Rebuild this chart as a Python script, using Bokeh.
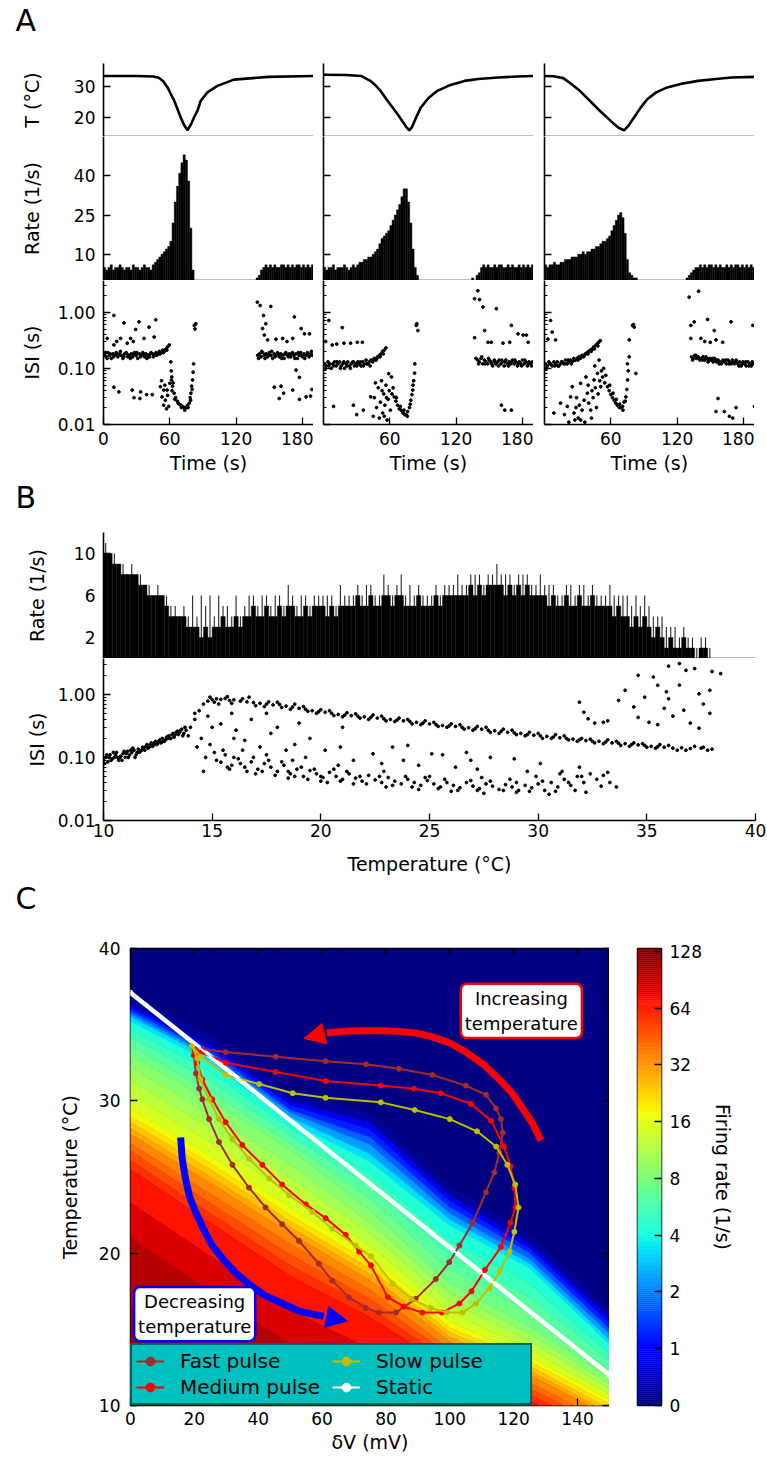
import numpy as np
from bokeh.plotting import figure
from bokeh.layouts import column, row
from bokeh.models import (Range1d, FixedTicker, PrintfTickFormatter, LinearAxis,
                          Label, Arrow, NormalHead, Legend, LegendItem)
from bokeh.embed import file_html
from bokeh.resources import INLINE

FONT = "DejaVu Sans"

# ======================= DATA =======================
# ---- Panel A: temperature traces (time s, T degC) ----
T1_t = [0, 30, 45, 50, 54, 58, 61, 64, 67, 70, 73, 76, 79, 82, 85, 88, 94, 103, 118, 149, 190]
T1_v = [33.5, 33.5, 33.3, 32.9, 31.8, 29.8, 27.6, 25.5, 22.8, 20.0, 17.6, 16.0, 17.8, 20.2, 22.3, 25.5, 28.2, 30.3, 32.3, 33.2, 33.5]
T2_t = [0, 20, 34, 42, 47, 52, 57, 62, 67, 72, 75, 77.6, 80, 83, 88, 95, 103, 115, 127.5, 140, 158, 175, 190]
T2_v = [33.9, 33.8, 33.5, 32.0, 30.5, 28.5, 26.0, 23.6, 21.2, 18.6, 17.0, 16.0, 17.0, 19.5, 23.3, 26.4, 28.7, 30.6, 31.9, 32.5, 33.0, 33.3, 33.5]
T3_t = [0, 8, 17, 24, 32, 41, 50, 57, 63, 67, 72, 76, 81, 87, 93, 101, 111, 124, 139, 155, 169, 190]
T3_v = [33.5, 33.4, 32.8, 31.0, 28.7, 25.5, 22.3, 20.0, 18.0, 16.8, 16.0, 17.5, 20.1, 23.3, 26.0, 28.2, 29.8, 31.0, 31.9, 32.5, 33.0, 33.2]

# ---- Panel A: firing rate, 2-s bins from 0 to 190 s ----
RATE_A1 = [5, 4, 5, 6, 4, 5, 5, 6, 5, 4, 5, 5, 4, 6, 5, 5, 4, 5, 6, 5, 5, 4,
           6, 7, 8, 9, 10, 11,
           12, 13, 15, 22, 30, 36, 41, 45, 48, 46, 38, 20, 4,
           0, 0, 0, 0, 0, 0, 0, 0, 0, 0, 0, 0, 0, 0, 0, 0, 0, 0, 0, 0, 0, 0, 0, 0, 0, 0, 0, 0,
           1, 2, 4, 5,
           6, 5, 6, 5, 6, 5, 5, 6, 6, 5, 6, 5, 6, 5, 6, 6, 5, 6, 5, 6, 5, 6]
RATE_A2 = [5, 4, 5, 5, 6, 4, 5, 5, 5, 6, 5, 4, 5, 6, 5,
           6, 7, 7, 8, 8, 9, 9, 10, 11, 12, 14,
           16, 17, 18, 19, 21, 23, 25, 27, 29, 32, 35, 35, 30, 22, 12, 5, 2,
           0, 0, 0, 0, 0, 0, 0, 0, 0, 0, 0, 0, 0, 0, 0, 0, 0, 0, 0, 0, 0, 0, 0, 0,
           1, 0, 2, 3,
           5, 6, 5, 6, 5, 5, 6, 5, 6, 6, 5, 5, 6, 5, 6, 5, 5, 6, 5, 6, 5, 6, 5, 6]
RATE_A3 = [6, 5, 6, 6, 7, 6, 6, 7, 7, 8,
           8, 8, 9, 9, 9, 10, 10, 11, 10, 11,
           11, 12, 12, 13, 13, 14, 15, 15,
           16, 17, 19, 21, 23, 25, 26, 24, 18, 8,
           3, 2, 1, 1,
           0, 0, 0, 0, 0, 0, 0, 0, 0, 0, 0, 0, 0, 0, 0, 0, 0, 0, 0, 0, 0, 0,
           1, 2, 3, 4,
           5, 5, 6, 5, 6, 5, 6, 6, 5, 6, 5, 6, 5, 5, 6, 5, 6, 5, 6, 6, 5, 6, 5, 6, 5, 6, 5]

# ---- Panel A: interspike intervals (time s, ISI s) ----
ISI_A1 = [
    (1, 0.17), (2.5, 0.16), (4, 0.19), (5.5, 0.17), (7, 0.15), (8.5, 0.18), (10, 0.17), (11.5, 0.19), (13, 0.16), (14.5, 0.18),
    (16, 0.17), (17.5, 0.15), (19, 0.18), (20.5, 0.19), (22, 0.16), (23.5, 0.17), (25, 0.18), (26.5, 0.16), (28, 0.19), (29.5, 0.17),
    (31, 0.15), (32.5, 0.18), (34, 0.17), (35.5, 0.19), (37, 0.16), (38.5, 0.18), (40, 0.17), (41.5, 0.16), (43, 0.19), (44.5, 0.18),
    (46, 0.17), (47.5, 0.19), (49, 0.18), (50.5, 0.2), (52, 0.19), (53.5, 0.21), (55, 0.2), (56.5, 0.22), (58, 0.24), (59.5, 0.26),
    (1.8, 0.19), (3.3, 0.15), (6.2, 0.18), (9.1, 0.16), (12.2, 0.18), (15.3, 0.2), (18.4, 0.16), (21.2, 0.18), (24.3, 0.15), (27.1, 0.18),
    (30.2, 0.19), (33.4, 0.16), (36.1, 0.18), (39.3, 0.15), (42.2, 0.18), (45.1, 0.16), (48.3, 0.17), (51.2, 0.18), (54.1, 0.19), (57.3, 0.21),
    (3.3, 0.34), (9.4, 0.87), (9.4, 0.26), (15.5, 0.34), (18.5, 0.64), (21.5, 0.28), (24.5, 0.34), (29.1, 0.49), (32.1, 0.67), (36.7, 0.34),
    (41.2, 0.54), (45.8, 0.36), (47.3, 0.73), (12, 0.3), (27, 0.3),
    (9.4, 0.046), (13.9, 0.038), (26, 0.041), (27.6, 0.030), (33, 0.029), (33.6, 0.038), (39, 0.034), (44.2, 0.034),
    (51.5, 0.047), (53, 0.031), (54.5, 0.022), (56, 0.027), (57.6, 0.041), (59, 0.021), (60, 0.054), (54.5, 0.041), (52.5, 0.06),
    (58, 0.033), (55.5, 0.05), (57, 0.019),
    (60.9, 0.13), (61.3, 0.09), (61.5, 0.062), (62.5, 0.048), (63.9, 0.036), (65.2, 0.03), (66.9, 0.026), (68.5, 0.023), (70, 0.022),
    (71.5, 0.021), (73, 0.02), (74.5, 0.020), (76, 0.022), (77.6, 0.024), (78.4, 0.03), (79.1, 0.036), (79.8, 0.048), (80.6, 0.062),
    (81.1, 0.085), (81.5, 0.12), (82.1, 0.58), (83.6, 0.62), (82.8, 0.5), (62, 0.04), (64.5, 0.028), (67.5, 0.024), (70.5, 0.02),
    (73.5, 0.018), (76.5, 0.02), (78.8, 0.027), (80.2, 0.042), (63, 0.055), (61.8, 0.07),
    (139.2, 1.5), (141.7, 1.31), (151.4, 1.26), (144.8, 0.87), (146.8, 0.62), (143.9, 0.51), (145.5, 0.39), (148.5, 0.32),
    (162.1, 0.34), (172.7, 0.82), (178.8, 0.51), (181.8, 0.41), (186.4, 0.41), (171.2, 0.34), (156, 0.33), (166, 0.3),
    (154.5, 0.046), (160.6, 0.048), (163, 0.036), (159, 0.029), (174.2, 0.093), (177.3, 0.069), (171.2, 0.041), (177.3, 0.028),
    (183.3, 0.031), (188.5, 0.042), (187.3, 0.032),
    (139.5, 0.17), (141, 0.18), (142.5, 0.16), (144, 0.19), (145.5, 0.17), (147, 0.18), (148.5, 0.16), (150, 0.19), (151.5, 0.17),
    (153, 0.15), (154.5, 0.18), (156, 0.17), (157.5, 0.19), (159, 0.16), (160.5, 0.18), (162, 0.17), (163.5, 0.15), (165, 0.19),
    (166.5, 0.17), (168, 0.18), (169.5, 0.16), (171, 0.19), (172.5, 0.17), (174, 0.18), (175.5, 0.15), (177, 0.17), (178.5, 0.19),
    (180, 0.16), (181.5, 0.18), (183, 0.17), (184.5, 0.19), (186, 0.16), (187.5, 0.18), (189, 0.17),
    (140.3, 0.15), (143.2, 0.2), (146.1, 0.15), (149.3, 0.17), (152.2, 0.2), (155.1, 0.16), (158.3, 0.18), (161.2, 0.15),
    (164.1, 0.18), (167.3, 0.16), (170.2, 0.18), (173.1, 0.15), (176.3, 0.19), (179.2, 0.17), (182.1, 0.15), (185.3, 0.18), (188.2, 0.2),
]
ISI_A2 = [
    (1, 0.12), (2.5, 0.11), (4, 0.13), (5.5, 0.12), (7, 0.1), (8.5, 0.12), (10, 0.13), (11.5, 0.11), (13, 0.12), (14.5, 0.13),
    (16, 0.11), (17.5, 0.12), (19, 0.1), (20.5, 0.12), (22, 0.13), (23.5, 0.11), (25, 0.12), (26.5, 0.13), (28, 0.11), (29.5, 0.12),
    (31, 0.13), (32.5, 0.12), (34, 0.11), (35.5, 0.13), (37, 0.12), (38.5, 0.14), (40, 0.12), (41.5, 0.13), (43, 0.14), (44.5, 0.13),
    (46, 0.15), (47.5, 0.14), (49, 0.16), (50.5, 0.17), (52, 0.18), (53.5, 0.2), (55, 0.21), (56.5, 0.23),
    (1.8, 0.1), (4.8, 0.11), (9.1, 0.11), (12.2, 0.13), (15.3, 0.1), (18.4, 0.13), (21.2, 0.11), (24.3, 0.1), (27.1, 0.13),
    (30.2, 0.11), (33.4, 0.13), (36.1, 0.11), (39.3, 0.12), (42.2, 0.11), (45.1, 0.14), (48.3, 0.15), (51.2, 0.16), (54.1, 0.18),
    (4.8, 0.71), (17, 0.53), (7.9, 0.26), (18.5, 0.28), (24.5, 0.28), (30.6, 0.29), (35.2, 0.29), (2, 0.3), (12, 0.27),
    (9.1, 0.021), (27, 0.022), (36, 0.018), (45, 0.014), (42.7, 0.031), (30, 0.015),
    (46, 0.03), (48, 0.02), (49.5, 0.045), (50.5, 0.013), (51.5, 0.025), (52.5, 0.06), (53.5, 0.016), (54.5, 0.035), (55.5, 0.022),
    (56.5, 0.05), (57.5, 0.012), (58.5, 0.028), (59.5, 0.04), (60.5, 0.018), (61.5, 0.07), (47, 0.055), (53, 0.04), (57, 0.03),
    (55, 0.014), (59, 0.08), (62, 0.035), (63, 0.045),
    (64, 0.031), (65.5, 0.026), (67, 0.022), (68.6, 0.019), (70.2, 0.018), (72, 0.016), (73.5, 0.015), (74.8, 0.015), (76.2, 0.017),
    (77.8, 0.02), (79, 0.027), (80, 0.034), (80.8, 0.041), (81.6, 0.06), (82.4, 0.082), (82.6, 0.12), (83.9, 0.58), (85.4, 0.47),
    (84.5, 0.62), (66, 0.03), (69.5, 0.021), (72.8, 0.018), (75.8, 0.014), (78.5, 0.023), (81, 0.05),
    (139.7, 2.4), (136.7, 1.73), (141.2, 1.67), (144.3, 1.23), (156.4, 1.15), (145.8, 0.47), (136.7, 0.35), (148.8, 0.29),
    (151.8, 0.29), (162.4, 0.28), (168.5, 0.29), (170, 0.58), (176, 0.41), (180.6, 0.39), (183.6, 0.39), (185.2, 0.29),
    (161, 0.022), (164, 0.018), (170, 0.018),
    (138, 0.15), (139.5, 0.14), (141, 0.13), (142.5, 0.15), (144, 0.12), (145.5, 0.14), (147, 0.13), (148.5, 0.12), (150, 0.14),
    (151.5, 0.13), (153, 0.11), (154.5, 0.14), (156, 0.12), (157.5, 0.13), (159, 0.14), (160.5, 0.12), (162, 0.13), (163.5, 0.11),
    (165, 0.14), (166.5, 0.12), (168, 0.13), (169.5, 0.12), (171, 0.14), (172.5, 0.12), (174, 0.13), (175.5, 0.11), (177, 0.13),
    (178.5, 0.12), (180, 0.14), (181.5, 0.12), (183, 0.13), (184.5, 0.11), (186, 0.13), (187.5, 0.12), (189, 0.13),
    (140.3, 0.12), (143.2, 0.16), (146.1, 0.12), (149.3, 0.15), (152.2, 0.12), (155.1, 0.13), (158.3, 0.11), (161.2, 0.14),
    (164.1, 0.13), (167.3, 0.11), (170.2, 0.13), (173.1, 0.14), (176.3, 0.12), (179.2, 0.11), (182.1, 0.14), (185.3, 0.12), (188.2, 0.11),
]
ISI_A3 = [
    (1, 0.12), (2.5, 0.11), (4, 0.13), (5.5, 0.12), (7, 0.11), (8.5, 0.13), (10, 0.12), (11.5, 0.13), (13, 0.11), (14.5, 0.12),
    (16, 0.13), (17.5, 0.12), (19, 0.14), (20.5, 0.12), (22, 0.13), (23.5, 0.14), (25, 0.13), (26.5, 0.15), (28, 0.14), (29.5, 0.15),
    (31, 0.16), (32.5, 0.15), (34, 0.17), (35.5, 0.16), (37, 0.18), (38.5, 0.19), (40, 0.2), (41.5, 0.21), (43, 0.22), (44.5, 0.24),
    (46, 0.25), (47.5, 0.27), (49, 0.29), (50.5, 0.31),
    (1.8, 0.1), (4.8, 0.12), (9.1, 0.11), (12.2, 0.11), (15.3, 0.13), (18.4, 0.12), (21.2, 0.14), (24.3, 0.12), (27.1, 0.14),
    (30.2, 0.14), (33.4, 0.16), (36.1, 0.17), (39.3, 0.18), (42.2, 0.2), (45.1, 0.22), (48.3, 0.25),
    (7, 0.44), (10, 0.32), (5.5, 0.71), (3, 0.33),
    (8.5, 0.016), (14.5, 0.024), (20.6, 0.021), (23.6, 0.031), (26.7, 0.016), (32.7, 0.012), (35.8, 0.027), (38.8, 0.036),
    (41.8, 0.018), (44.8, 0.062), (47.9, 0.081), (50.9, 0.047), (49.4, 0.14), (32.7, 0.054), (25.1, 0.047), (18, 0.015),
    (22, 0.011), (28.5, 0.02), (30.5, 0.013), (34, 0.018), (36.5, 0.011), (40, 0.024), (42.5, 0.013), (44, 0.03), (46, 0.045),
    (47, 0.02), (48.5, 0.035), (50, 0.06), (51.5, 0.09), (39.5, 0.05), (37.5, 0.07), (43, 0.04), (29, 0.03), (31.5, 0.022),
    (27.5, 0.012), (45.5, 0.11), (52.5, 0.07), (53.5, 0.1), (54.5, 0.055), (55.5, 0.075),
    (57, 0.047), (58.5, 0.04), (60, 0.034), (61.5, 0.03), (63, 0.027), (64.5, 0.024), (66, 0.022), (67.6, 0.02), (69, 0.02),
    (70.6, 0.021), (72, 0.025), (73.6, 0.031), (74.5, 0.042), (75.2, 0.062), (75.8, 0.09), (76.7, 0.16), (76.7, 0.32),
    (79.7, 0.58), (81.2, 0.54), (82.7, 0.081), (80.5, 0.6), (59, 0.05), (62, 0.036), (65, 0.028), (68, 0.023), (71, 0.018),
    (73, 0.026), (75, 0.12),
    (130.9, 1.84), (139.4, 2.35), (132.4, 0.58), (135.5, 0.67), (147.6, 0.74), (132.4, 0.34), (141.5, 0.34), (153.6, 0.47),
    (155.2, 0.32), (161.2, 0.29), (168.8, 0.67), (188.5, 0.58), (157, 0.029), (155.2, 0.017), (162.7, 0.017), (167.3, 0.014),
    (173.3, 0.02), (170.3, 0.013), (190, 0.021), (145, 0.3), (150, 0.29),
    (133, 0.16), (134.5, 0.15), (136, 0.17), (137.5, 0.15), (139, 0.16), (140.5, 0.14), (142, 0.15), (143.5, 0.16), (145, 0.14),
    (146.5, 0.15), (148, 0.13), (149.5, 0.15), (151, 0.14), (152.5, 0.13), (154, 0.15), (155.5, 0.13), (157, 0.14), (158.5, 0.13),
    (160, 0.12), (161.5, 0.14), (163, 0.13), (164.5, 0.12), (166, 0.14), (167.5, 0.13), (169, 0.12), (170.5, 0.13), (172, 0.12),
    (173.5, 0.14), (175, 0.12), (176.5, 0.13), (178, 0.11), (179.5, 0.13), (181, 0.12), (182.5, 0.11), (184, 0.13), (185.5, 0.12),
    (187, 0.11), (188.5, 0.12), (134, 0.14), (137, 0.17), (140, 0.15), (143, 0.14), (146, 0.16), (149, 0.14), (152, 0.15),
    (155, 0.14), (158, 0.12), (161, 0.13), (164, 0.14), (167, 0.12), (170, 0.14), (173, 0.13), (176, 0.11), (179, 0.12),
    (182, 0.13), (185, 0.11), (188, 0.13),
]

# ---- Panel B: firing rate vs temperature, 0.2 degC bins from 10 to 38 (body and spike tops) ----
RATE_B = [10, 10, 9, 9, 8, 8, 8, 8, 7, 7, 6, 6, 6, 6, 5, 4, 4, 4, 4, 3, 3, 3, 2, 3, 2,
          3, 3, 4, 3, 3, 4, 3, 4, 4, 5, 4, 4, 5, 4, 4, 5, 4, 5, 5, 4, 4, 5, 4, 5, 5,
          5, 4, 5, 4, 5, 5, 5, 5, 6, 5, 5, 6, 5, 5, 6, 6, 5, 6, 6, 5, 5, 5, 6, 5, 5,
          5, 6, 5, 6, 6, 6, 6, 6, 6, 7, 6, 7, 6, 7, 7, 7, 7, 6, 7, 6, 7, 6, 7, 6, 6,
          6, 6, 5, 6, 5, 5, 6, 5, 5, 6, 5, 5, 6, 5, 5, 5, 5, 4, 5, 4, 4, 3, 4, 3, 4,
          3, 2, 3, 2, 1, 2, 1, 1, 2, 1, 1, 0, 1, 1, 0]
RATE_B_PEAK = [11, 10, 10, 9, 9, 8, 9, 8, 8, 7, 7, 6, 7, 6, 6, 5, 5, 4, 5, 4, 6, 4, 6, 5, 6,
               4, 6, 5, 5, 4, 6, 4, 5, 6, 6, 5, 6, 6, 5, 6, 6, 5, 7, 6, 5, 6, 6, 5, 6, 6,
               6, 6, 6, 5, 7, 6, 6, 6, 7, 6, 7, 7, 6, 6, 8, 7, 6, 7, 8, 6, 7, 6, 7, 6, 6,
               6, 7, 6, 7, 7, 7, 8, 7, 7, 8, 8, 8, 7, 8, 8, 9, 8, 8, 8, 7, 8, 8, 8, 7, 7,
               8, 7, 7, 7, 6, 6, 7, 7, 6, 7, 7, 6, 7, 6, 6, 6, 7, 6, 6, 6, 6, 5, 6, 5, 6,
               5, 4, 4, 4, 3, 3, 3, 2, 3, 2, 2, 1, 2, 2, 1]

# ---- Panel B: ISI vs temperature (degC, s) ----
ISI_B = [
    (10.0, 0.09), (10.1, 0.1), (10.2, 0.085), (10.3, 0.11), (10.4, 0.095), (10.5, 0.1), (10.6, 0.12), (10.7, 0.09), (10.8, 0.105),
    (10.9, 0.115), (11.0, 0.1), (11.1, 0.125), (11.2, 0.11), (11.3, 0.12), (11.4, 0.13), (11.5, 0.11), (11.6, 0.135), (11.7, 0.125),
    (11.8, 0.145), (11.9, 0.13), (12.0, 0.16), (12.1, 0.145), (12.2, 0.17), (12.3, 0.155), (12.4, 0.18), (12.5, 0.165), (12.6, 0.19),
    (12.7, 0.2), (12.8, 0.18), (12.9, 0.21), (13.0, 0.22), (13.1, 0.2), (13.2, 0.24), (13.3, 0.23), (13.4, 0.26), (13.5, 0.25),
    (13.6, 0.28), (13.7, 0.24), (13.8, 0.27), (10.05, 0.08), (10.25, 0.1), (10.45, 0.12), (10.65, 0.1), (10.85, 0.09), (11.05, 0.115),
    (11.25, 0.13), (11.45, 0.1), (11.65, 0.12), (11.85, 0.14), (12.05, 0.14), (12.25, 0.15), (12.45, 0.16), (12.65, 0.17), (12.85, 0.19),
    (13.05, 0.2), (13.25, 0.21), (13.45, 0.23), (13.65, 0.22), (13.9, 0.22),
    (10.15, 0.11), (10.35, 0.09), (10.55, 0.11), (10.75, 0.1), (10.95, 0.125), (11.15, 0.1), (11.35, 0.14), (11.55, 0.12),
    (11.75, 0.13), (11.95, 0.15), (12.15, 0.16), (12.35, 0.17), (12.55, 0.18), (12.75, 0.18), (12.95, 0.2), (13.15, 0.23),
    (13.35, 0.25), (13.55, 0.27), (13.75, 0.3),
    (14.0, 0.3), (14.2, 0.4), (14.4, 0.55), (14.6, 0.7), (14.8, 0.78), (15.0, 0.82), (15.2, 0.85), (15.4, 0.83), (15.6, 0.86),
    (15.8, 0.8), (16.0, 0.82), (16.3, 0.78), (16.6, 0.76), (16.9, 0.74), (17.2, 0.72), (17.5, 0.7), (17.8, 0.68), (18.1, 0.69),
    (18.4, 0.65), (18.7, 0.63), (19.0, 0.6), (19.3, 0.58), (19.6, 0.55), (19.9, 0.53), (20.2, 0.52), (20.5, 0.5), (20.8, 0.48),
    (21.1, 0.47), (21.4, 0.46), (21.7, 0.45), (22.0, 0.44), (22.3, 0.43), (22.6, 0.42), (22.9, 0.41), (23.2, 0.4), (23.5, 0.39),
    (23.8, 0.38), (24.1, 0.37), (24.4, 0.36), (24.7, 0.35), (25.0, 0.34), (25.3, 0.33), (25.6, 0.32), (25.9, 0.315), (26.2, 0.31),
    (26.5, 0.3), (26.8, 0.295), (27.1, 0.285), (27.4, 0.28), (27.7, 0.27), (28.0, 0.265), (28.3, 0.26), (28.6, 0.25), (28.9, 0.245),
    (29.2, 0.24), (29.5, 0.23), (29.8, 0.225), (30.1, 0.22), (30.4, 0.215), (30.7, 0.21), (31.0, 0.205), (31.3, 0.2), (31.6, 0.195),
    (31.9, 0.19), (32.2, 0.185), (32.5, 0.18), (32.8, 0.18), (33.1, 0.175), (33.4, 0.17), (33.7, 0.168), (34.0, 0.165), (34.3, 0.16),
    (34.6, 0.158), (34.9, 0.155), (35.2, 0.15), (35.5, 0.148), (35.8, 0.145), (36.2, 0.14), (36.6, 0.142), (37.0, 0.138),
    (37.5, 0.14), (38.0, 0.135),
    (15.1, 0.75), (15.7, 0.92), (16.4, 0.85), (17.0, 0.66), (17.6, 0.76), (18.2, 0.62), (18.8, 0.7), (19.4, 0.54), (20.0, 0.57),
    (20.6, 0.46), (21.2, 0.51), (21.8, 0.42), (22.4, 0.47), (23.0, 0.38), (23.6, 0.42), (24.2, 0.34), (24.8, 0.38), (25.4, 0.31),
    (26.0, 0.34), (26.6, 0.28), (27.2, 0.31), (27.8, 0.25), (28.4, 0.28), (29.0, 0.23), (29.6, 0.25), (30.2, 0.2), (30.8, 0.23),
    (31.4, 0.19), (32.0, 0.2), (32.6, 0.17), (33.2, 0.19), (33.8, 0.155), (34.4, 0.17), (35.0, 0.145), (35.6, 0.16), (36.4, 0.13),
    (37.2, 0.15), (37.8, 0.13),
    (14.9, 0.9), (15.3, 0.7), (15.9, 0.72), (16.7, 0.9), (17.4, 0.64), (18.0, 0.75), (18.6, 0.58), (19.2, 0.64), (19.8, 0.5),
    (20.4, 0.55), (21.0, 0.44), (21.6, 0.49), (22.2, 0.4), (22.8, 0.45), (23.4, 0.37), (24.0, 0.4), (24.6, 0.33), (25.2, 0.36),
    (25.8, 0.3), (26.4, 0.33), (27.0, 0.27), (27.6, 0.3), (28.2, 0.24), (28.8, 0.27), (29.4, 0.22), (30.0, 0.24), (30.6, 0.2),
    (31.2, 0.22), (31.8, 0.18), (32.4, 0.195), (33.0, 0.165), (33.6, 0.18), (34.2, 0.15), (34.8, 0.165), (35.4, 0.14),
    (36.0, 0.155), (36.8, 0.13), (37.6, 0.145),
    (14.3, 0.146), (14.5, 0.2), (14.7, 0.1), (14.9, 0.16), (15.1, 0.12), (15.4, 0.084), (15.6, 0.11), (15.9, 0.075), (16.2, 0.095),
    (16.5, 0.07), (16.8, 0.085), (17.1, 0.065), (17.4, 0.08), (17.7, 0.07), (18.0, 0.06), (18.3, 0.075), (18.6, 0.055), (18.9, 0.065),
    (19.2, 0.05), (19.5, 0.062), (19.8, 0.055), (20.1, 0.048), (20.4, 0.058), (20.7, 0.05), (21.0, 0.045), (21.3, 0.055),
    (21.6, 0.047), (21.9, 0.042), (22.2, 0.052), (22.5, 0.044), (22.8, 0.04), (23.1, 0.048), (23.4, 0.042), (23.7, 0.038),
    (24.0, 0.045), (24.3, 0.04), (24.6, 0.036), (24.9, 0.043), (25.2, 0.038), (25.5, 0.034), (25.8, 0.04), (26.1, 0.036),
    (26.4, 0.033), (26.7, 0.04), (27.0, 0.035), (27.3, 0.032), (27.6, 0.038), (27.9, 0.035), (28.2, 0.031), (28.5, 0.037),
    (28.8, 0.034), (29.1, 0.03), (29.4, 0.036), (29.7, 0.033), (30.0, 0.038), (30.3, 0.03), (30.6, 0.04), (30.9, 0.034),
    (31.2, 0.045), (31.5, 0.036), (31.8, 0.05), (32.1, 0.04), (32.4, 0.055), (32.7, 0.045), (33.0, 0.052), (33.3, 0.04),
    (33.6, 0.034), (32.2, 0.028), (30.5, 0.026), (29.0, 0.028), (27.5, 0.027), (26.0, 0.029), (24.5, 0.031), (23.0, 0.034),
    (21.5, 0.038), (20.0, 0.042), (18.5, 0.047), (17.0, 0.055), (15.8, 0.065), (14.6, 0.06),
    (15.2, 0.09), (15.5, 0.13), (15.7, 0.07), (16.0, 0.1), (16.3, 0.08), (16.6, 0.06), (16.9, 0.1), (17.3, 0.06), (17.6, 0.09),
    (17.9, 0.052), (18.2, 0.085), (18.5, 0.06), (18.8, 0.05), (19.1, 0.07), (19.4, 0.045), (19.7, 0.065), (20.0, 0.05),
    (20.3, 0.04), (20.6, 0.065), (20.9, 0.042), (21.2, 0.06), (21.8, 0.05), (22.1, 0.038), (22.7, 0.05), (23.3, 0.036),
    (23.9, 0.05), (24.2, 0.034), (24.8, 0.048), (25.4, 0.032), (25.7, 0.045), (26.3, 0.03), (26.9, 0.043), (27.2, 0.03),
    (27.8, 0.042), (28.4, 0.03), (29.0, 0.04), (29.6, 0.029), (30.2, 0.042), (30.8, 0.029), (31.4, 0.04), (31.7, 0.03),
    (32.0, 0.05), (32.9, 0.035), (33.2, 0.058), (31.1, 0.06), (29.9, 0.05), (28.7, 0.045), (27.4, 0.048), (25.0, 0.05),
    (22.9, 0.06), (20.8, 0.075), (18.7, 0.09), (17.5, 0.11), (16.4, 0.13),
    (15.4, 0.34), (16.1, 0.27), (16.5, 0.186), (17.2, 0.146), (17.7, 0.24), (18.4, 0.13), (19.3, 0.1), (20.2, 0.13), (20.9, 0.146),
    (22.4, 0.114), (23.3, 0.146), (24.0, 0.155), (25.1, 0.114), (25.6, 0.11), (26.7, 0.12), (27.8, 0.1), (28.9, 0.095), (30.1, 0.08),
    (31.9, 0.07), (14.8, 0.45), (15.0, 0.3), (15.9, 0.5), (16.8, 0.4), (17.5, 0.5), (18.0, 0.3), (19.0, 0.35), (19.5, 0.2),
    (21.5, 0.09), (22.8, 0.08), (24.5, 0.075), (26.2, 0.07), (27.2, 0.065), (29.5, 0.06), (31.0, 0.055), (14.2, 0.5), (16.0, 0.2),
    (18.8, 0.16), (21.0, 0.3), (23.8, 0.09), (26.9, 0.09),
    (31.9, 0.75), (32.1, 0.52), (32.3, 0.41), (33.2, 0.38), (33.7, 0.8), (34.0, 1.16), (34.6, 2.0), (35.3, 1.88), (35.5, 1.39),
    (36.0, 0.85), (36.5, 1.4), (36.7, 0.56), (36.8, 2.4), (37.2, 2.56), (37.4, 1.02), (37.9, 1.16), (38.0, 2.3), (38.4, 2.13),
    (36.5, 3.07), (36.0, 2.8), (34.6, 0.43), (35.1, 0.36), (35.5, 0.33), (37.4, 0.29), (37.0, 0.35), (37.9, 0.5), (34.4, 0.63),
    (33.0, 0.36), (32.6, 0.35), (35.8, 0.6), (36.2, 0.45), (37.6, 0.7), (34.9, 0.9), (35.9, 1.1),
]

# ---- Panel C: firing-rate map as iso-lines: T (degC) at each dV column, per colour level ----
HEAT_DV = [0, 25, 50, 75, 100, 125, 150]
HEAT_LEVEL = [0.5, 1.0, 1.5, 2.0, 2.5, 3.0, 3.25, 3.5, 3.75, 4.0, 4.25, 4.5, 4.75, 5.0, 5.25, 5.5, 5.75,
              6.0, 6.25, 6.5, 6.75, 7.0, 7.25, 7.5, 7.75, 8.0]
HEAT_T = [
    [36.3, 33.6, 30.0, 28.6, 23.8, 20.6, 15.8],
    [36.1, 33.4, 29.7, 28.1, 23.4, 20.3, 15.4],
    [35.9, 33.2, 29.4, 27.6, 23.0, 20.0, 15.0],
    [35.7, 33.0, 29.2, 27.1, 22.6, 19.6, 14.7],
    [35.5, 32.8, 28.9, 26.5, 22.2, 19.3, 14.3],
    [35.2, 32.5, 28.6, 26.0, 21.8, 19.0, 14.0],
    [34.7, 31.9, 28.2, 25.2, 20.8, 18.0, 13.4],
    [34.2, 31.3, 27.7, 24.4, 19.9, 17.1, 12.9],
    [33.6, 30.6, 27.2, 23.6, 18.9, 16.1, 12.3],
    [33.0, 30.0, 26.8, 22.8, 18.0, 15.2, 11.8],
    [32.2, 29.1, 25.8, 22.0, 17.4, 14.7, 11.4],
    [31.3, 28.2, 24.9, 21.3, 16.8, 14.2, 11.1],
    [30.4, 27.3, 23.9, 20.5, 16.1, 13.7, 10.7],
    [29.5, 26.4, 23.0, 19.8, 15.5, 13.2, 10.4],
    [29.0, 25.9, 22.5, 19.4, 15.1, 12.9, 10.1],
    [28.6, 25.5, 22.1, 19.0, 14.8, 12.6, 9.8],
    [28.2, 25.0, 21.7, 18.6, 14.5, 12.3, 9.5],
    [27.8, 24.6, 21.3, 18.2, 14.2, 12.0, 9.3],
    [27.2, 23.9, 20.6, 17.6, 13.7, 11.5, 8.9],
    [26.7, 23.3, 19.9, 17.0, 13.3, 11.1, 8.6],
    [26.1, 22.6, 19.2, 16.4, 12.9, 10.7, 8.3],
    [25.5, 22.0, 18.5, 15.8, 12.5, 10.3, 8.0],
    [23.3, 19.8, 16.3, 13.7, 10.5, 8.2, 5.5],
    [21.0, 17.5, 14.0, 11.5, 8.5, 6.0, 3.0],
    [16.5, 12.8, 9.0, 5.8, 2.8, 0.0, -3.0],
    [12.0, 8.0, 4.0, 0.0, -3.0, -6.0, -9.0],
]
CBAR_TICKS = [0, 1, 2, 3, 4, 5, 6, 7, 8]
CBAR_LABELS = ["0", "1", "2", "4", "8", "16", "32", "64", "128"]

STATIC_DV = [0, 150]
STATIC_T = [37.1, 12.0]
FAST_DV = [19.3, 19.8, 20.5, 21.5, 22.5, 24.6, 27.7, 31.9, 37.1, 42.3, 47.5, 52.8, 59.0, 63.2, 68.4, 73.7, 77.8, 83.1, 89.3, 95.6,
           99.8, 103.0, 107.2, 111.3, 113.9, 115.5, 116.6, 116.0, 114.5, 111.3, 105.0, 94.6, 84.1, 73.7, 61.1, 45.5, 29.8, 22.5, 19.3]
FAST_T = [33.6, 33.0, 31.8, 30.8, 30.1, 28.8, 27.3, 25.8, 24.3, 23.0, 21.9, 20.8, 19.3, 18.2, 17.1, 16.4, 16.1, 16.1, 17.0, 18.3,
          19.4, 20.5, 22.0, 24.0, 25.3, 26.6, 27.9, 28.8, 29.5, 30.4, 31.0, 31.7, 32.1, 32.4, 32.6, 32.9, 33.2, 33.4, 33.6]
MEDIUM_DV = [19.3, 20.2, 20.9, 22.5, 25.6, 29.8, 35.0, 41.3, 47.5, 54.9, 61.1, 67.4, 71.6, 75.3, 80.6, 85.5, 91.4, 97.5, 103.0,
             106.8, 111.0, 116.0, 119.0, 120.6, 120.2, 119.0, 117.0, 112.9, 106.6, 97.2, 88.8, 78.4, 61.1, 45.5, 29.8, 22.0, 19.3]
MEDIUM_T = [33.6, 33.0, 32.5, 31.4, 30.1, 28.6, 27.1, 25.8, 24.5, 23.2, 22.3, 21.2, 20.1, 19.2, 17.1, 16.5, 16.1, 16.1, 16.7,
            17.5, 18.9, 20.4, 22.0, 23.0, 24.3, 25.7, 27.0, 28.7, 29.8, 30.5, 30.8, 31.0, 31.3, 31.9, 32.5, 33.2, 33.6]
SLOW_DV = [19.3, 20.9, 21.9, 24.6, 27.7, 31.9, 37.1, 43.4, 49.7, 57.0, 63.2, 70.5, 75.3, 82.1, 88.0, 94.0, 99.0, 104.0, 108.2,
           112.4, 115.6, 118.7, 120.2, 121.5, 120.5, 118.0, 114.5, 108.5, 100.0, 89.0, 78.4, 61.1, 50.8, 40.3, 29.8, 22.0, 19.3]
SLOW_T = [33.6, 32.8, 31.4, 30.1, 28.8, 27.5, 26.2, 24.9, 23.8, 22.7, 21.6, 20.5, 19.8, 18.0, 17.0, 16.4, 16.1, 16.1, 16.7,
          17.7, 18.8, 20.1, 21.4, 23.0, 24.5, 25.8, 27.0, 28.0, 28.8, 29.4, 29.9, 30.2, 30.5, 31.1, 31.7, 32.9, 33.6]

# annotation arcs (dV, T)
RED_ARC_DV = [128.5, 126.0, 122.8, 119.5, 115.5, 110.5, 105.0, 100.0, 94.6, 89.5, 84.1, 79.0, 73.7, 69.5, 66.0, 61.5]
RED_ARC_T = [27.4, 28.5, 29.5, 30.5, 31.4, 32.4, 33.2, 33.8, 34.2, 34.45, 34.55, 34.6, 34.6, 34.58, 34.55, 34.45]
RED_TIP = (54.3, 34.1)
BLUE_ARC_DV = [15.7, 16.2, 17.2, 18.5, 20.4, 22.8, 25.6, 29.0, 32.9, 37.5, 42.3, 47.5, 52.8, 57.0, 60.5]
BLUE_ARC_T = [27.6, 26.2, 24.9, 23.7, 22.7, 21.6, 20.5, 19.6, 18.7, 17.9, 17.2, 16.7, 16.2, 16.0, 15.85]
BLUE_TIP = (67.9, 15.55)

# ======================= HELPERS =======================
def jet(v):
    v = min(max(v, 0.0), 1.0)
    r = np.interp(v, [0, 0.35, 0.66, 0.89, 1], [0, 0, 1, 1, 0.5])
    g = np.interp(v, [0, 0.125, 0.375, 0.64, 0.91, 1], [0, 0, 1, 1, 0, 0])
    b = np.interp(v, [0, 0.11, 0.34, 0.65, 1], [0.5, 1, 1, 0, 0])
    return "#%02x%02x%02x" % (int(round(r * 255)), int(round(g * 255)), int(round(b * 255)))


def new_fig(**kw):
    p = figure(output_backend="svg", toolbar_location=None, **kw)
    p.grid.visible = False
    p.outline_line_color = None
    p.background_fill_color = "white"
    p.border_fill_color = "white"
    return p


def style_axis(ax, fs="17px"):
    ax.axis_line_width = 1.6
    ax.axis_line_color = "black"
    ax.major_tick_in = 7
    ax.major_tick_out = 0
    ax.minor_tick_in = 3
    ax.minor_tick_out = 0
    ax.major_tick_line_width = 1.3
    ax.minor_tick_line_width = 1.0
    ax.major_label_text_font = FONT
    ax.major_label_text_font_size = fs
    ax.major_label_text_color = "black"
    ax.axis_label_text_font = FONT
    ax.axis_label_text_font_style = "normal"
    ax.axis_label_text_font_size = "19px"
    ax.axis_label_text_color = "black"


def hide_labels(ax, ticks):
    ax.major_label_overrides = {t: "" for t in ticks}
    ax.major_label_standoff = 0


def bare_xaxis(p):
    ax = p.xaxis[0]
    ax.ticker = FixedTicker(ticks=[])
    ax.axis_line_width = 1.6
    ax.major_label_standoff = 0
    ax.major_tick_in = 0
    ax.major_tick_out = 0
    ax.minor_tick_in = 0
    ax.minor_tick_out = 0


def letter_fig(txt, h, ty, w=751):
    p = figure(width=w, height=h, x_range=Range1d(0, w), y_range=Range1d(h, 0),
               x_axis_location=None, y_axis_location=None, output_backend="svg",
               toolbar_location=None, min_border=0)
    p.grid.visible = False
    p.outline_line_color = None
    p.add_layout(Label(x=15, y=ty, text=txt, text_font=FONT, text_font_size="30px",
                       text_baseline="top", text_color="black"))
    return p


LOG_TICKS = [0.01, 0.1, 1]
LOG_MINOR = [0.02, 0.03, 0.04, 0.05, 0.06, 0.07, 0.08, 0.09, 0.2, 0.3, 0.4, 0.5, 0.6, 0.7, 0.8, 0.9, 2, 3]
RATE_A_X = np.arange(1, 190, 2)
RATE_B_X = 10.1 + 0.2 * np.arange(len(RATE_B))


def col_a(k, Tt, Tv, rates, isi):
    left = [103, 10, 11][k]
    xr = Range1d(0, 190)
    common = dict(frame_width=210, x_range=xr, min_border_left=left, min_border_right=0)
    first = k == 0

    pT = new_fig(frame_height=73, y_range=Range1d(14, 37.5), min_border_top=25, min_border_bottom=0, **common)
    pT.line(Tt, Tv, line_color="black", line_width=2.6)
    style_axis(pT.yaxis[0])
    pT.yaxis.ticker = FixedTicker(ticks=[20, 30])
    bare_xaxis(pT)

    pR = new_fig(frame_height=144, y_range=Range1d(0, 55), min_border_top=0, min_border_bottom=0, **common)
    pR.vbar(x=RATE_A_X, top=rates, width=2.0, fill_color="black", line_color="black", line_width=0.4)
    style_axis(pR.yaxis[0])
    pR.yaxis.ticker = FixedTicker(ticks=[10, 25, 40])
    bare_xaxis(pR)

    pI = new_fig(frame_height=144, y_range=Range1d(0.01, 3.65), y_axis_type="log",
                 min_border_top=0, min_border_bottom=53, **common)
    ts, vs = zip(*isi)
    pI.scatter(list(ts), list(vs), size=2.8, color="black", marker="circle")
    style_axis(pI.yaxis[0])
    pI.yaxis.ticker = FixedTicker(ticks=LOG_TICKS, minor_ticks=LOG_MINOR)
    pI.yaxis.formatter = PrintfTickFormatter(format="%.2f")
    style_axis(pI.xaxis[0])
    pI.xaxis.ticker = FixedTicker(ticks=[0, 60, 120, 180] if first else [60, 120, 180])
    pI.xaxis.major_label_standoff = 7
    pI.xaxis.axis_label = "Time (s)"
    pI.xaxis.axis_label_standoff = 4

    if first:
        pT.yaxis.axis_label = "T (°C)"
        pR.yaxis.axis_label = "Rate (1/s)"
        pI.yaxis.axis_label = "ISI (s)"
        for p, als in ((pT, 28), (pR, 28), (pI, 12)):
            p.yaxis.major_label_standoff = 8
            p.yaxis.axis_label_standoff = als
    else:
        hide_labels(pT.yaxis[0], [20, 30])
        hide_labels(pR.yaxis[0], [10, 25, 40])
        hide_labels(pI.yaxis[0], LOG_TICKS)
    return column(pT, pR, pI)


# ======================= PANEL A =======================
rowA = row(col_a(0, T1_t, T1_v, RATE_A1, ISI_A1),
           col_a(1, T2_t, T2_v, RATE_A2, ISI_A2),
           col_a(2, T3_t, T3_v, RATE_A3, ISI_A3))

# ======================= PANEL B =======================
xrB = Range1d(10, 40)
pBR = new_fig(frame_width=652, frame_height=126, x_range=xrB, y_range=Range1d(0, 12),
              min_border_left=103, min_border_right=11, min_border_top=17, min_border_bottom=0)
pBR.vbar(x=RATE_B_X, top=RATE_B_PEAK, width=0.05, fill_color="#222222", line_color=None)
pBR.vbar(x=RATE_B_X, top=RATE_B, width=0.2, fill_color="black", line_color="black", line_width=0.4)
style_axis(pBR.yaxis[0])
pBR.yaxis.ticker = FixedTicker(ticks=[2, 6, 10])
pBR.yaxis.axis_label = "Rate (1/s)"
pBR.yaxis.major_label_standoff = 8
pBR.yaxis.axis_label_standoff = 23
bare_xaxis(pBR)

pBI = new_fig(frame_width=652, frame_height=162, x_range=xrB, y_range=Range1d(0.01, 3.7), y_axis_type="log",
              min_border_left=103, min_border_right=11, min_border_top=0, min_border_bottom=58)
bt, bv = zip(*ISI_B)
pBI.scatter(list(bt), list(bv), size=2.8, color="black", marker="circle")
style_axis(pBI.yaxis[0])
pBI.yaxis.ticker = FixedTicker(ticks=LOG_TICKS, minor_ticks=LOG_MINOR)
pBI.yaxis.formatter = PrintfTickFormatter(format="%.2f")
pBI.yaxis.axis_label = "ISI (s)"
pBI.yaxis.major_label_standoff = 8
pBI.yaxis.axis_label_standoff = 7
style_axis(pBI.xaxis[0])
pBI.xaxis.ticker = FixedTicker(ticks=[10, 15, 20, 25, 30, 35, 40])
pBI.xaxis.axis_label = "Temperature (°C)"
pBI.xaxis.major_label_standoff = 3
pBI.xaxis.axis_label_standoff = 13

# ======================= PANEL C =======================
pC = new_fig(frame_width=479, frame_height=457, x_range=Range1d(0, 150), y_range=Range1d(10, 40),
             min_border_left=130, min_border_right=0, min_border_top=32, min_border_bottom=52)
pC.background_fill_color = jet(0.0)
pC.outline_line_color = "black"
pC.outline_line_width = 1.5

xs, ys, cols = [], [], []
for i, upper in enumerate(HEAT_T):
    if i + 1 < len(HEAT_T):
        lower = HEAT_T[i + 1]
        mid = 0.5 * (HEAT_LEVEL[i] + HEAT_LEVEL[i + 1])
    else:
        lower = [-40.0] * len(HEAT_DV)
        mid = HEAT_LEVEL[i]
    xs.append(list(HEAT_DV) + list(HEAT_DV[::-1]))
    ys.append(list(upper) + list(lower[::-1]))
    cols.append(jet(mid / 8.0))
pC.patches(xs, ys, fill_color=cols, line_color=cols, line_width=0.6)
pC.patches([list(HEAT_DV) + list(HEAT_DV[::-1])], [list(HEAT_T[0]) + [v + 0.6 for v in HEAT_T[0][::-1]]],
           fill_color=jet(0.25 / 8.0), line_color=None, fill_alpha=0.8)

r_static = pC.line(STATIC_DV, STATIC_T, line_color="white", line_width=4.5)

C_FAST, C_MED, C_SLOW = "#a52a2a", "#ff0000", "#bfbf00"
rf_l = pC.line(FAST_DV, FAST_T, line_color=C_FAST, line_width=2)
rf_m = pC.scatter(FAST_DV, FAST_T, marker="circle", size=5, fill_color=C_FAST, line_color=C_FAST)
rm_l = pC.line(MEDIUM_DV, MEDIUM_T, line_color=C_MED, line_width=2)
rm_m = pC.scatter(MEDIUM_DV, MEDIUM_T, marker="circle", size=5, fill_color=C_MED, line_color=C_MED)
rs_l = pC.line(SLOW_DV, SLOW_T, line_color=C_SLOW, line_width=2)
rs_m = pC.scatter(SLOW_DV, SLOW_T, marker="circle", size=5, fill_color=C_SLOW, line_color=C_SLOW)
rst_l = pC.line(STATIC_DV, STATIC_T, line_color="white", line_width=2)
rst_m = pC.scatter(STATIC_DV, STATIC_T, marker="circle", size=5, fill_color="white", line_color="white")

# arrows
pC.line(RED_ARC_DV, RED_ARC_T, line_color="red", line_width=7, line_join="round")
pC.add_layout(Arrow(end=NormalHead(size=21, fill_color="red", line_color="red", line_width=1),
                    x_start=RED_ARC_DV[-1], y_start=RED_ARC_T[-1], x_end=RED_TIP[0], y_end=RED_TIP[1],
                    line_alpha=0, line_width=1))
pC.line(BLUE_ARC_DV, BLUE_ARC_T, line_color="blue", line_width=7, line_join="round")
pC.add_layout(Arrow(end=NormalHead(size=21, fill_color="blue", line_color="blue", line_width=1),
                    x_start=BLUE_ARC_DV[-1], y_start=BLUE_ARC_T[-1], x_end=BLUE_TIP[0], y_end=BLUE_TIP[1],
                    line_alpha=0, line_width=1))

pC.add_layout(Label(x=122.4, y=35.9, text="Increasing\ntemperature", text_align="center", text_baseline="middle",
                    text_font=FONT, text_font_size="18px", text_color="black",
                    background_fill_color="white", background_fill_alpha=1.0,
                    border_line_color="red", border_line_width=2.5, padding=4, border_radius=6))
pC.add_layout(Label(x=20.1, y=16.0, text="Decreasing\ntemperature", text_align="center", text_baseline="middle",
                    text_font=FONT, text_font_size="18px", text_color="black",
                    background_fill_color="white", background_fill_alpha=1.0,
                    border_line_color="blue", border_line_width=2.5, padding=4, border_radius=6))

legend = Legend(items=[LegendItem(label="Fast pulse", renderers=[rf_l, rf_m]),
                       LegendItem(label="Medium pulse", renderers=[rm_l, rm_m]),
                       LegendItem(label="Slow pulse", renderers=[rs_l, rs_m]),
                       LegendItem(label="Static", renderers=[rst_l, rst_m])],
                location=(0, 0), ncols=2, margin=0, padding=4, spacing=2,
                background_fill_color="#00bfbf", background_fill_alpha=1.0,
                border_line_color="black", border_line_width=2.5,
                label_text_font=FONT, label_text_font_size="20px", label_text_color="black",
                glyph_width=28, glyph_height=22, label_standoff=16, label_width=150, label_height=22)
pC.add_layout(legend)

C_XT = [0, 20, 40, 60, 80, 100, 120, 140]
C_YT = [10, 20, 30, 40]
style_axis(pC.xaxis[0])
style_axis(pC.yaxis[0])
pC.xaxis.ticker = FixedTicker(ticks=C_XT)
pC.yaxis.ticker = FixedTicker(ticks=C_YT)
pC.xaxis.axis_label = "δV (mV)"
pC.yaxis.axis_label = "Temperature (°C)"
pC.xaxis.major_label_standoff = 6
pC.xaxis.axis_label_standoff = 3
pC.yaxis.major_label_standoff = 10
pC.yaxis.axis_label_standoff = 15
pC.xaxis.axis_line_color = None
pC.yaxis.axis_line_color = None
top_ax = LinearAxis(ticker=FixedTicker(ticks=C_XT))
right_ax = LinearAxis(ticker=FixedTicker(ticks=C_YT))
for ax, tk in ((top_ax, C_XT), (right_ax, C_YT)):
    style_axis(ax)
    hide_labels(ax, tk)
    ax.axis_line_color = None
pC.add_layout(top_ax, "above")
pC.add_layout(right_ax, "right")

# colour bar
pCB = new_fig(frame_width=24, frame_height=457, x_range=Range1d(0, 1), y_range=Range1d(0, 8.05),
              min_border_left=28, min_border_right=90, min_border_top=32, min_border_bottom=52,
              x_axis_location=None, y_axis_location="right")
edges = np.linspace(0, 8.05, 231)
cb_cols = [jet(0.5 * (edges[i] + edges[i + 1]) / 8.0) for i in range(len(edges) - 1)]
pCB.quad(left=0, right=1, bottom=edges[:-1], top=edges[1:], fill_color=cb_cols, line_color=cb_cols, line_width=0.5)
pCB.outline_line_color = "black"
pCB.outline_line_width = 1.5
style_axis(pCB.yaxis[0])
pCB.yaxis.axis_line_color = None
pCB.yaxis.ticker = FixedTicker(ticks=CBAR_TICKS)
pCB.yaxis.major_label_overrides = {t: s for t, s in zip(CBAR_TICKS, CBAR_LABELS)}
pCB.yaxis.axis_label = "Firing rate (1/s)"
pCB.yaxis.major_label_standoff = 8
pCB.yaxis.axis_label_standoff = 7

layout = column(letter_fig("A", 38, 2), rowA, letter_fig("B", 38, 2), column(pBR, pBI),
                letter_fig("C", 38, 2), row(pC, pCB))

with open("out.html", "w") as f:
    f.write(file_html(layout, INLINE))
